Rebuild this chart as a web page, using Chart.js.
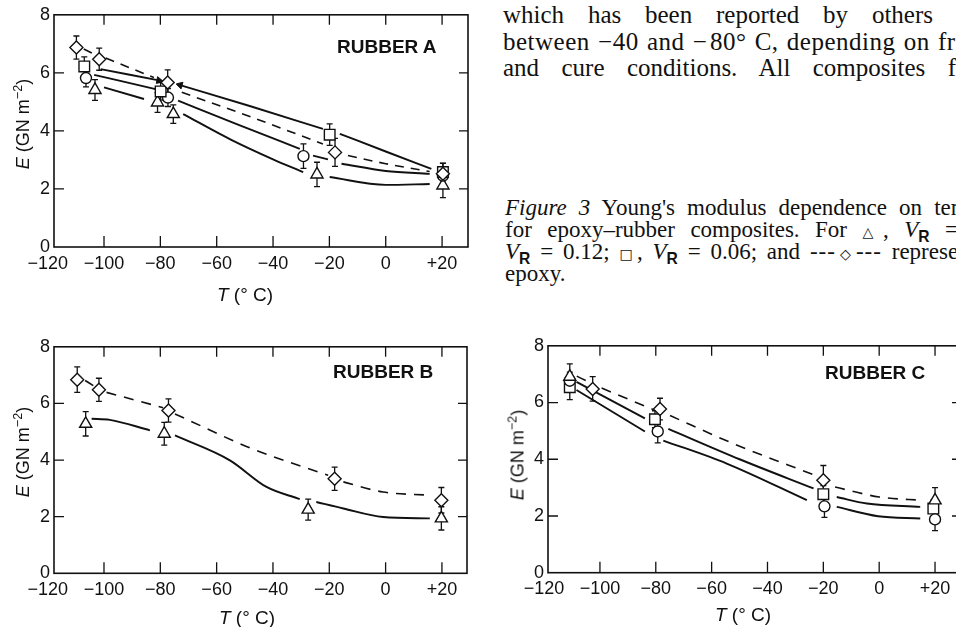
<!DOCTYPE html>
<html>
<head>
<meta charset="utf-8">
<script src="https://cdn.jsdelivr.net/npm/chart.js@4.4.1/dist/chart.umd.min.js"></script>
<style>
body{margin:0;width:956px;height:627px;overflow:hidden;background:#fff;position:relative;font-family:'Liberation Serif',serif;color:#111}
canvas{position:absolute}
.t{position:absolute;white-space:nowrap}
.j{position:absolute;text-align:justify;text-align-last:justify}
.ax{position:absolute;white-space:nowrap;font-family:'Liberation Sans',sans-serif;font-size:19px;transform:translate(-50%,-50%);color:#111}
.ay{position:absolute;white-space:nowrap;font-family:'Liberation Sans',sans-serif;font-size:18px;transform:translate(-50%,-50%) rotate(-90deg);color:#111}
.rb{position:absolute;white-space:nowrap;font-family:'Liberation Sans',sans-serif;font-weight:bold;font-size:19px;line-height:19px;color:#111}
.vr{font:bold 0.68em 'Liberation Sans',sans-serif;vertical-align:-0.3em;line-height:0}
.sym{font-family:'DejaVu Sans',sans-serif;font-size:0.62em}
</style>
</head>
<body>
<div class="j" style="left:503px;top:2px;width:430px;font-size:25px;line-height:25px">which has been reported by others</div>
<div class="t" style="left:503px;top:28.5px;font-size:25px;line-height:25px;letter-spacing:0.5px;word-spacing:1.5px">between −40 and −&#8202;80° C, depending on fr</div>
<div class="j" style="left:503px;top:55px;width:453px;font-size:25px;line-height:25px">and cure conditions. All composites f</div>

<div class="j" style="left:505px;top:197px;width:539px;font-size:23px;line-height:22px"><i>Figure 3</i> Young's modulus dependence on temperature</div>
<div class="j" style="left:505px;top:219px;width:515px;font-size:23px;line-height:22px">for epoxy–rubber composites. For <span class="sym">△</span>, <i>V</i><span class="vr">R</span> = 0.20;</div>
<div class="j" style="left:505px;top:241px;width:480px;font-size:23px;line-height:22px"><i>V</i><span class="vr">R</span> = 0.12; <span class="sym">□</span>, <i>V</i><span class="vr">R</span> = 0.06; and <span style="letter-spacing:1px">---<span class="sym">◇</span>---</span> represents</div>
<div class="t" style="left:505px;top:263px;font-size:23px;line-height:22px">epoxy.</div>

<canvas id="cA"></canvas>
<canvas id="cB"></canvas>
<canvas id="cC"></canvas>

<div class="rb" style="left:337px;top:37px">RUBBER A</div>
<div class="rb" style="left:333px;top:362px">RUBBER B</div>
<div class="rb" style="left:825px;top:363px">RUBBER C</div>

<div class="ay" style="left:22px;top:124px"><i>E</i> (GN m<sup style="font-size:0.7em">−2</sup>)</div>
<div class="ax" style="left:245px;top:295px"><i>T</i> (° C)</div>
<div class="ay" style="left:22px;top:452px"><i>E</i> (GN m<sup style="font-size:0.7em">−2</sup>)</div>
<div class="ax" style="left:247px;top:618px"><i>T</i> (° C)</div>
<div class="ay" style="left:517px;top:455px"><i>E</i> (GN m<sup style="font-size:0.7em">−2</sup>)</div>
<div class="ax" style="left:743px;top:615px"><i>T</i> (° C)</div>

<script>
// ---- tick labels ----
const xTicks = [-120, -100, -80, -60, -40, -20, 0, 20];
const yTicks = [0, 2, 4, 6, 8];

// ---- Rubber A: markers (T in °C, E in GN m^-2, error half-width) ----
const A_diamond_T = [-109.8, -101.7, -77.4, -18.0, 20.3];
const A_diamond_E = [6.87, 6.47, 5.67, 3.26, 2.52];
const A_diamond_err = [0.40, 0.38, 0.43, 0.48, 0.37];
const A_square_T = [-107.0, -79.9, -19.9, 20.3];
const A_square_E = [6.22, 5.36, 3.87, 2.58];
const A_square_err = [0.33, 0.30, 0.37, 0.30];
const A_circle_T = [-106.4, -77.3, -29.2, 20.3];
const A_circle_E = [5.82, 5.15, 3.13, 2.46];
const A_circle_err = [0.30, 0.31, 0.42, 0.30];
const A_triangle_T = [-103.2, -81.0, -75.4, -24.4, 20.3];
const A_triangle_E = [5.41, 4.98, 4.58, 2.50, 2.12];
const A_triangle_err = [0.36, 0.34, 0.32, 0.42, 0.42];
// Rubber A: fitted curves (null = gap)
const A_dash_T = [-107.2, -104.2, null, -99.4, -91, -82.3, null, -72.4, -47, -22.3, null, -13.4, 0, 15.6];
const A_dash_E = [6.82, 6.68, null, 6.51, 6.18, 5.84, null, 5.33, 4.45, 3.55, null, 3.15, 2.87, 2.60];
const A_sq_T = [-101.2, -80.5, null, -73.0, -48, -22.3, null, -16.3, 0, 16.2];
const A_sq_E = [6.13, 5.74, null, 5.58, 4.85, 4.07, null, 3.90, 3.29, 2.69];
const A_circ_T = [-103.5, -81.7, null, -73.7, -52, -30.5, null, -25.8, -20.5, null, -15.7, 0, 15.6];
const A_circ_E = [5.93, 5.44, null, 5.04, 4.20, 3.38, null, 3.15, 3.02, null, 2.87, 2.62, 2.52];
const A_tri_T = [-100.0, -85.8, null, -71.9, -55, -40, -29.3, null, -19.9, 0, 15.6];
const A_tri_E = [5.50, 5.10, null, 4.58, 3.70, 3.02, 2.58, null, 2.41, 2.14, 2.17];
const A_arrow_T = [-80.5, -73.0];
const A_arrow_E = [5.74, 5.58];
const A_arrow_rot = [100, 286];

// ---- Rubber B ----
const B_diamond_T = [-109.5, -101.8, -77.1, -18.1, 19.8];
const B_diamond_E = [6.84, 6.48, 5.75, 3.34, 2.58];
const B_diamond_err = [0.45, 0.41, 0.41, 0.41, 0.45];
const B_triangle_T = [-106.5, -78.6, -27.5, 19.8];
const B_triangle_E = [5.28, 4.93, 2.25, 1.94];
const B_triangle_err = [0.43, 0.40, 0.37, 0.41];
const B_dash_T = [-106.7, -103.8, null, -99.1, -89, -79.0, null, -74.8, -47.4, -20.4, null, -15.0, -0.9, 15.7];
const B_dash_E = [6.81, 6.63, null, 6.39, 6.12, 5.85, null, 5.63, 4.40, 3.46, null, 3.23, 2.87, 2.76];
const B_tri_T = [-104.4, -97.9, -83.7, null, -74.8, -55.3, -42.3, -30.5, null, -24.6, -15.0, -0.9, 15.7];
const B_tri_E = [5.46, 5.42, 5.05, null, 4.87, 3.99, 3.05, 2.62, null, 2.52, 2.29, 1.99, 1.94];

// ---- Rubber C ----
const C_triangle_T = [-110.8, 20.0];
const C_triangle_E = [6.91, 2.55];
const C_triangle_err = [0.45, 0.45];
const C_circle_T = [-110.8, -79.3, -19.6, 20.0];
const C_circle_E = [6.77, 4.98, 2.34, 1.88];
const C_circle_err = [0.30, 0.40, 0.39, 0.40];
const C_square_T = [-110.8, -80.3, -20.0, 19.4];
const C_square_E = [6.54, 5.41, 2.77, 2.26];
const C_square_err = [0.44, 0.30, 0.30, 0.30];
const C_diamond_T = [-102.6, -78.5, -20.0];
const C_diamond_E = [6.48, 5.77, 3.26];
const C_diamond_err = [0.43, 0.38, 0.52];
const C_dash_T = [-108.3, -104.8, null, -99.4, -80.9, null, -74.9, -52.2, -22.9, null, -15.8, 0, 15.9];
const C_dash_E = [6.93, 6.76, null, 6.51, 5.75, null, 5.54, 4.55, 3.43, null, 3.02, 2.67, 2.55];
const C_sq_T = [-108.4, -83.9, null, -75.5, -50, -23.5, null, -15.2, -4.4, 14.7];
const C_sq_E = [6.73, 5.44, null, 5.07, 4.00, 2.97, null, 2.67, 2.44, 2.32];
const C_circ_T = [-108.4, -83.9, null, -77.3, -54.6, -25.9, null, -15.2, -0.4, 14.7];
const C_circ_E = [6.44, 4.98, null, 4.66, 3.85, 2.56, null, 2.32, 1.99, 1.91];

Chart.defaults.font.family = "'Liberation Sans', Arial, sans-serif";
Chart.defaults.color = '#111';

function pts(T, E) { return T.map((t, i) => (t === null ? {x: NaN, y: null} : {x: t, y: E[i]})); }

const STYLE = {
  diamond: {pointStyle: 'rectRot', radius: 6.5},
  square: {pointStyle: 'rect', radius: 7.5},
  circle: {pointStyle: 'circle', radius: 5.5},
  triangle: {pointStyle: 'triangle', radius: 7}
};

function markers(kind, T, E, err) {
  return {
    type: 'line', data: pts(T, E), showLine: false, errs: err, order: 0,
    pointStyle: STYLE[kind].pointStyle, pointRadius: STYLE[kind].radius,
    pointBackgroundColor: '#fff', pointBorderColor: '#111', pointBorderWidth: 1.4
  };
}
function curve(T, E, dashed) {
  return {
    type: 'line', data: pts(T, E), spanGaps: false, order: 2,
    borderColor: '#111', borderWidth: dashed ? 1.6 : 1.9, borderDash: dashed ? [9, 7] : [],
    pointRadius: 0, cubicInterpolationMode: 'monotone', fill: false
  };
}

const errPlugin = {
  id: 'errbars',
  beforeDatasetsDraw(chart) {
    const ctx = chart.ctx, ys = chart.scales.y;
    ctx.save();
    ctx.strokeStyle = '#111'; ctx.lineWidth = 1.3;
    chart.data.datasets.forEach((ds, di) => {
      if (!ds.errs) return;
      const meta = chart.getDatasetMeta(di);
      meta.data.forEach((p, i) => {
        const e = ds.errs[i], v = ds.data[i].y;
        const y1 = ys.getPixelForValue(v + e), y2 = ys.getPixelForValue(v - e);
        ctx.beginPath();
        ctx.moveTo(p.x, y1); ctx.lineTo(p.x, y2);
        ctx.moveTo(p.x - 3, y1); ctx.lineTo(p.x + 3, y1);
        ctx.moveTo(p.x - 3, y2); ctx.lineTo(p.x + 3, y2);
        ctx.stroke();
      });
    });
    ctx.restore();
  }
};

const framePlugin = {
  id: 'frame',
  afterDraw(chart) {
    const ctx = chart.ctx, a = chart.chartArea, xs = chart.scales.x, ys = chart.scales.y;
    ctx.save();
    ctx.strokeStyle = '#111'; ctx.lineWidth = 1.6;
    ctx.strokeRect(a.left, a.top, a.right - a.left, a.bottom - a.top);
    ctx.lineWidth = 1.3;
    ctx.beginPath();
    xTicks.forEach(v => {
      const px = xs.getPixelForValue(v);
      if (px <= a.left + 1 || px >= a.right - 1) return;
      ctx.moveTo(px, a.bottom); ctx.lineTo(px, a.bottom - 11);
      ctx.moveTo(px, a.top); ctx.lineTo(px, a.top + 10);
    });
    yTicks.forEach(v => {
      const py = ys.getPixelForValue(v);
      if (py <= a.top + 1 || py >= a.bottom - 1) return;
      ctx.moveTo(a.left, py); ctx.lineTo(a.left + 10, py);
      ctx.moveTo(a.right, py); ctx.lineTo(a.right - 9, py);
    });
    ctx.stroke();
    ctx.restore();
  }
};

function makeChart(id, box, area, xr, datasets) {
  const cv = document.getElementById(id);
  cv.width = box.w; cv.height = box.h;
  cv.style.left = box.left + 'px'; cv.style.top = box.top + 'px';
  cv.style.width = box.w + 'px'; cv.style.height = box.h + 'px';
  return new Chart(cv.getContext('2d'), {
    type: 'line',
    data: {datasets},
    options: {
      responsive: false, animation: false, devicePixelRatio: 1,
      layout: {padding: {top: area.t - box.top, right: box.left + box.w - area.r, left: 0, bottom: 0}},
      plugins: {legend: {display: false}, tooltip: {enabled: false}},
      scales: {
        x: {
          type: 'linear', min: xr[0], max: xr[1],
          grid: {display: false, drawTicks: false}, border: {display: false},
          afterBuildTicks: s => { s.ticks = xTicks.map(v => ({value: v})); },
          afterFit: s => { s.height = box.top + box.h - area.b; },
          ticks: {
            autoSkip: false, maxRotation: 0, padding: 6, color: '#111',
            font: {size: 18},
            callback: v => (v > 0 ? '+' + v : v < 0 ? '−' + Math.abs(v) : '0')
          }
        },
        y: {
          type: 'linear', min: 0, max: 8,
          grid: {display: false, drawTicks: false}, border: {display: false},
          afterBuildTicks: s => { s.ticks = yTicks.map(v => ({value: v})); },
          afterFit: s => { s.width = area.l - box.left; },
          ticks: {padding: 4, color: '#111', font: {size: 18}}
        }
      }
    },
    plugins: [errPlugin, framePlugin]
  });
}

makeChart('cA', {left: 0, top: 0, w: 480, h: 285}, {l: 54, t: 14.5, r: 468, b: 247}, [-117.75, 29.2], [
  markers('diamond', A_diamond_T, A_diamond_E, A_diamond_err),
  markers('square', A_square_T, A_square_E, A_square_err),
  markers('circle', A_circle_T, A_circle_E, A_circle_err),
  markers('triangle', A_triangle_T, A_triangle_E, A_triangle_err),
  {type: 'line', data: pts(A_arrow_T, A_arrow_E), showLine: false, order: 1,
   pointStyle: 'triangle', pointRadius: 4, pointRotation: A_arrow_rot,
   pointBackgroundColor: '#111', pointBorderColor: '#111', pointBorderWidth: 1},
  curve(A_dash_T, A_dash_E, true),
  curve(A_sq_T, A_sq_E, false),
  curve(A_circ_T, A_circ_E, false),
  curve(A_tri_T, A_tri_E, false)
]);

makeChart('cB', {left: 0, top: 332, w: 480, h: 290}, {l: 54, t: 346, r: 467, b: 573.3}, [-117.75, 28.9], [
  markers('diamond', B_diamond_T, B_diamond_E, B_diamond_err),
  markers('triangle', B_triangle_T, B_triangle_E, B_triangle_err),
  Object.assign(curve(B_dash_T, B_dash_E, true), {borderDash: [10, 8]}),
  curve(B_tri_T, B_tri_E, false)
]);

makeChart('cC', {left: 490, top: 331, w: 500, h: 290}, {l: 548, t: 345, r: 961, b: 572.7}, [-118.6, 29.3], [
  markers('diamond', C_diamond_T, C_diamond_E, C_diamond_err),
  markers('triangle', C_triangle_T, C_triangle_E, C_triangle_err),
  markers('circle', C_circle_T, C_circle_E, C_circle_err),
  markers('square', C_square_T, C_square_E, C_square_err),
  Object.assign(curve(C_dash_T, C_dash_E, true), {borderDash: [10, 8]}),
  curve(C_sq_T, C_sq_E, false),
  curve(C_circ_T, C_circ_E, false)
]);
</script>
</body>
</html>
